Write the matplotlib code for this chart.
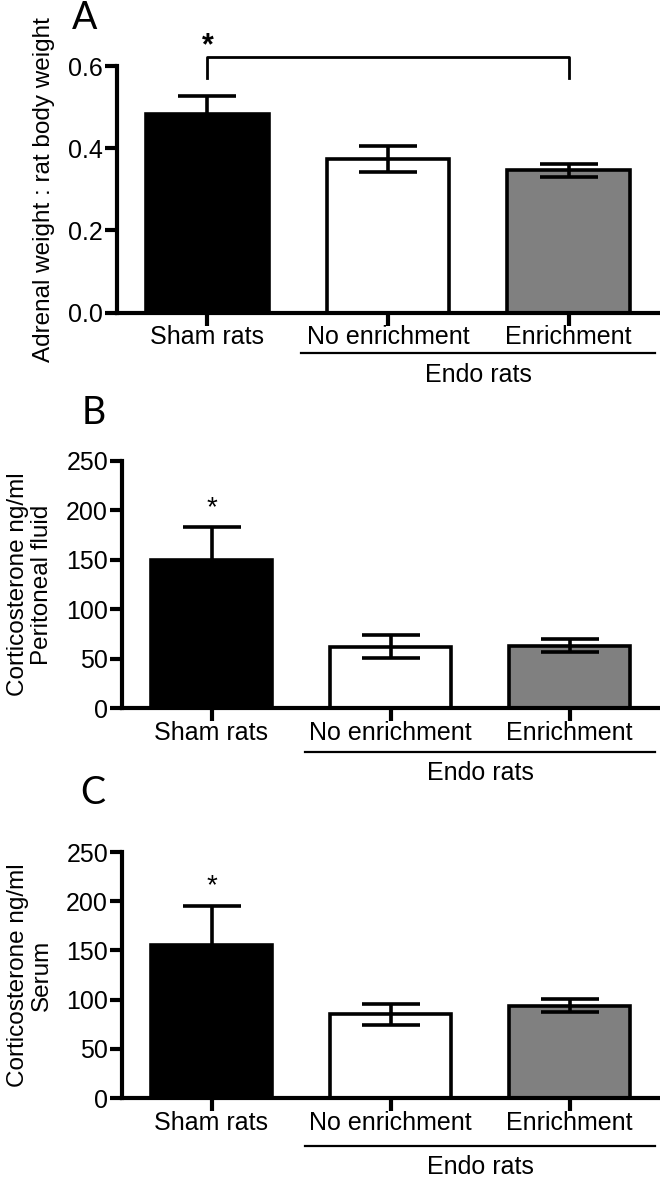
import matplotlib
matplotlib.use("Agg")
import matplotlib.pyplot as plt
import matplotlib.transforms as mtransforms

plt.rcParams['font.family'] = ['Liberation Sans', 'DejaVu Sans']

groups = ['Sham rats', 'No enrichment', 'Enrichment']
colors = ['black', 'white', '#808080']

adrenal_mean = [0.484, 0.374, 0.346]
adrenal_sem = [0.044, 0.032, 0.016]

pf_mean = [149.5, 62.0, 63.2]
pf_sem = [33.5, 11.5, 6.5]

serum_mean = [155.6, 85.2, 94.0]
serum_sem = [39.5, 10.8, 6.3]

panels = [
    # letter, ylabel, means, sems, yticks, tick fmt
    ('A', 'Adrenal weight : rat body weight', adrenal_mean, adrenal_sem,
     [0.0, 0.2, 0.4, 0.6], '{:.1f}'),
    ('B', 'Corticosterone ng/ml\nPeritoneal fluid', pf_mean, pf_sem,
     [0, 50, 100, 150, 200, 250], '{:d}'),
    ('C', 'Corticosterone ng/ml\nSerum', serum_mean, serum_sem,
     [0, 50, 100, 150, 200, 250], '{:d}'),
]

fig = plt.figure(figsize=(6.6, 11.77), dpi=100)
W, H = 660, 1177

# axes in pixels: left, y of zero line, y of top
rects = [(117, 312.7, 66), (122, 708, 461), (122, 1098, 852)]
# offsets below axis (px): tick labels, underline, "Endo rats"
offs = [(24, 40, 62), (25, 44, 65), (25, 48, 69)]
letter_pos = [(72, 18), (82, 413), (80, 793)]
ylab_right = [55, 53, 53]

fs = 18
lw = 2.6
for (letter, ylab, means, sems, yt, fmt), (l, b, t), (o1, o2, o3), (lx, ly), yr in zip(
        panels, rects, offs, letter_pos, ylab_right):
    ax = fig.add_axes([l / W, 1 - b / H, (659 - l) / W, (b - t) / H])
    x = list(range(len(groups)))
    ax.bar(x, means, width=0.68, color=colors, edgecolor='black', linewidth=lw, zorder=2)
    ax.errorbar(x, means, yerr=sems, fmt='none', ecolor='black', elinewidth=lw,
                capsize=21, capthick=lw, zorder=3)
    ax.set_xlim(-0.5, 2.5)
    ax.set_ylim(0, yt[-1])
    ax.set_yticks(yt)
    ax.set_yticklabels([fmt.format(v) for v in yt], fontsize=fs)
    ax.set_xticks(x)
    ax.set_xticklabels([])
    for s in ['top', 'right']:
        ax.spines[s].set_visible(False)
    for s in ['left', 'bottom']:
        ax.spines[s].set_linewidth(3)
    ax.tick_params(axis='both', width=3, length=9, direction='out', pad=1)
    ax.set_ylabel(ylab, fontsize=17.5, linespacing=1.1)
    ax.yaxis.set_label_coords((yr - l) / (659 - l), 0.5)

    tr = mtransforms.blended_transform_factory(ax.transData, ax.transAxes)
    hpx = b - t
    for xi, g in zip(x, groups):
        ax.text(xi, -o1 / hpx, g, transform=tr, ha='center', va='center', fontsize=fs)
    ax.plot([0.52, 2.48], [-o2 / hpx] * 2, transform=tr, color='black', lw=1.6, clip_on=False)
    ax.text(1.5, -o3 / hpx, 'Endo rats', transform=tr, ha='center', va='center', fontsize=fs)

    fig.text(lx / W, 1 - ly / H, letter, fontsize=27, family='Lato', ha='left', va='center')

    if letter == 'A':
        ax.plot([0, 0, 2, 2], [0.572, 0.621, 0.621, 0.572], color='black', lw=2, clip_on=False)
        ax.text(0, 0.648, '*', ha='center', va='center', fontsize=22, fontweight='bold')
    else:
        ax.annotate('*', xy=(0, means[0] + sems[0]), xytext=(0, 14), textcoords='offset points',
                    ha='center', va='center', fontsize=20)

fig.savefig('out.png', dpi=100)
